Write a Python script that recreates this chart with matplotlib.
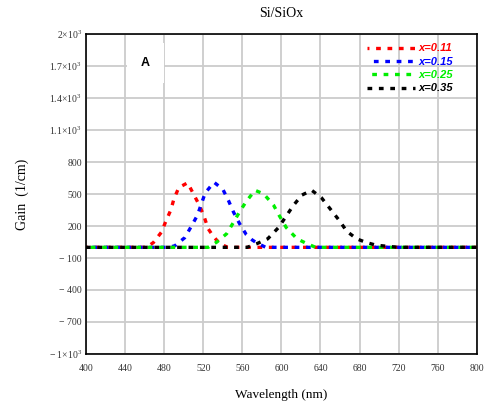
import matplotlib
matplotlib.use("Agg")
import matplotlib.pyplot as plt

plt.rcParams['lines.scale_dashes'] = False
plt.rcParams['mathtext.fontset'] = 'custom'
plt.rcParams['mathtext.rm'] = 'Liberation Serif'
plt.rcParams['mathtext.default'] = 'rm'

# wavelength (nm) / gain (1/cm)
wl_red = [400, 462, 469, 477, 482, 487, 490, 495, 504, 510, 516, 521, 525, 529, 533, 537, 545, 800]
g_red = [0, 0, 45, 140, 250, 355, 455, 560, 605, 500, 395, 285, 175, 120, 75, 35, 0, 0]

wl_blue = [400, 485, 491, 501, 508, 514, 518, 522, 531, 540, 546, 551, 557, 564, 570, 575, 584, 800]
g_blue = [0, 0, 15, 90, 200, 300, 405, 510, 610, 545, 435, 330, 225, 120, 70, 40, 0, 0]

wl_green = [400, 525, 534, 544, 551, 557, 564, 573, 582, 592, 598, 605, 616, 626, 635, 800]
g_green = [0, 0, 50, 128, 235, 330, 430, 535, 500, 395, 295, 185, 80, 35, 0, 0]

wl_black = [400, 565, 575, 586, 597, 604, 612, 621, 631, 641, 650, 659, 667, 677, 687, 697, 708, 720, 800]
g_black = [0, 0, 35, 80, 185, 280, 390, 490, 535, 465, 360, 255, 150, 80, 45, 20, 10, 0, 0]

labels = ["x=0.11", "x=0.15", "x=0.25", "x=0.35"]
colors = ["#ff0000", "#0000ff", "#00ee00", "#000000"]

xticks = list(range(400, 801, 40))
yticks = [-1000, -700, -400, -100, 200, 500, 800, 1100, 1400, 1700, 2000]
ytick_labels = ["\u2212 1\u00d710$^3$", "\u2212 700", "\u2212 400", "\u2212 100", "200", "500", "800",
                "1.1\u00d710$^3$", "1.4\u00d710$^3$", "1.7\u00d710$^3$", "2\u00d710$^3$"]

fig = plt.figure(figsize=(4.86, 4.03), dpi=100)
ax = fig.add_axes([0.177, 0.1216, 0.804, 0.794])

serif = "Liberation Serif"
per = 8.2
on = 3.4
offsets = [2.0, 3.6, 4.8, 0.0]
series = [(wl_red, g_red), (wl_blue, g_blue), (wl_green, g_green), (wl_black, g_black)]
for (wl, g), c, lab, off in zip(series, colors, labels, offsets):
    ax.plot(wl, g, color=c, lw=2.4, linestyle=(off, (on, per - on)), label=lab)

ax.set_xlim(400, 800)
ax.set_ylim(-1000, 2000)
ax.set_xticks(xticks)
ax.set_xticklabels([str(v) for v in xticks], fontfamily=serif, fontsize=7, color="#333333")
ax.set_yticks(yticks)
ax.set_yticklabels(ytick_labels, fontfamily=serif, fontsize=7, color="#333333")
ax.tick_params(length=0, pad=3)
ax.tick_params(axis="x", pad=7)
ax.grid(True, color="#cccccc", lw=1.3)
ax.set_axisbelow(True)
for s in ax.spines.values():
    s.set_color("black")
    s.set_linewidth(1.2)

ax.set_title("Si/SiOx", fontfamily=serif, fontsize=10, pad=12)
ax.set_xlabel("Wavelength (nm)", fontfamily=serif, fontsize=9.5, labelpad=12)
ax.set_ylabel("Gain  (1/cm)", fontfamily=serif, fontsize=10, labelpad=14)

ax.text(461, 1730, "A", fontfamily="Liberation Sans", fontweight="bold", fontsize=9,
        ha="center", va="center",
        bbox=dict(facecolor="white", edgecolor="none", boxstyle="square,pad=1.1"))

leg = ax.legend(loc="upper right", bbox_to_anchor=(0.96, 0.995), frameon=False,
                prop={"family": "Liberation Sans", "style": "italic", "weight": "bold", "size": 8},
                labelcolor="linecolor", handlelength=4.4, handletextpad=0.3,
                labelspacing=0.3, borderpad=0.2)

fig.savefig("out.png", dpi=100)
